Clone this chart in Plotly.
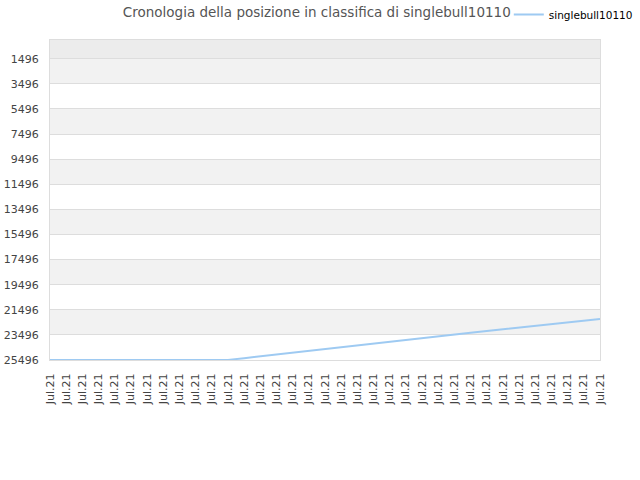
import plotly.graph_objects as go

# Dati
giorni = ["Jul.21"] * 35
posizioni = [25496] * 12 + [
    25348, 25200, 25053, 24907, 24761, 24616, 24471, 24327, 24183, 24040,
    23897, 23755, 23613, 23472, 23331, 23191, 23051, 22912, 22773, 22635,
    22497, 22360, 22223,
]
tick_y = [1496 + 2000 * i for i in range(13)]

x = list(range(len(giorni)))

fig = go.Figure()
fig.add_trace(go.Scatter(x=x, y=posizioni, mode="lines", name="singlebull10110",
                         line=dict(color="#9ecaf2", width=2)))

# Bande alternate dello sfondo
shapes = [dict(type="rect", xref="paper", yref="y", x0=0, x1=1, y0=0, y1=tick_y[0],
               fillcolor="#ececec", line_width=0, layer="below")]
for i in range(len(tick_y) - 1):
    shapes.append(dict(type="rect", xref="paper", yref="y", x0=0, x1=1,
                       y0=tick_y[i], y1=tick_y[i + 1],
                       fillcolor="#f2f2f2" if i % 2 == 0 else "#ffffff",
                       line_width=0, layer="below"))

fig.update_layout(
    width=640, height=480,
    margin=dict(l=50, r=40, t=40, b=120),
    paper_bgcolor="white", plot_bgcolor="white",
    font=dict(family="DejaVu Sans", size=11, color="#444"),
    title=dict(text="Cronologia della posizione in classifica di singlebull10110",
               x=0.495, xanchor="center", xref="container",
               y=0.975, yref="container", yanchor="middle",
               font=dict(size=13.5, color="#555")),
    shapes=shapes,
    showlegend=True,
    legend=dict(orientation="h", x=0.795, xanchor="left", xref="container",
                y=0.97, yref="container", yanchor="middle", itemwidth=30,
                font=dict(size=10.5, color="#000"), bgcolor="rgba(0,0,0,0)"),
    xaxis=dict(tickmode="array", tickvals=x, ticktext=giorni, tickangle=-90,
               range=[0, len(giorni) - 1], showgrid=False, zeroline=False,
               showline=True, linecolor="#ddd", mirror=True, ticks="",
               ticklabelstandoff=8, automargin=False,
               tickfont=dict(size=11, color="#444")),
    yaxis=dict(tickmode="array", tickvals=tick_y, ticktext=[str(v) for v in tick_y],
               range=[25496, 0], showgrid=True, gridcolor="#dddddd", zeroline=False,
               showline=True, linecolor="#ddd", mirror=True, ticks="",
               ticklabelstandoff=8, automargin=False,
               tickfont=dict(size=11, color="#444")),
)

# niente margine della pagina, così il grafico parte dall'angolo
fig.write_html("out.html", config={"displayModeBar": False},
               post_script="document.body.style.margin='0';")
